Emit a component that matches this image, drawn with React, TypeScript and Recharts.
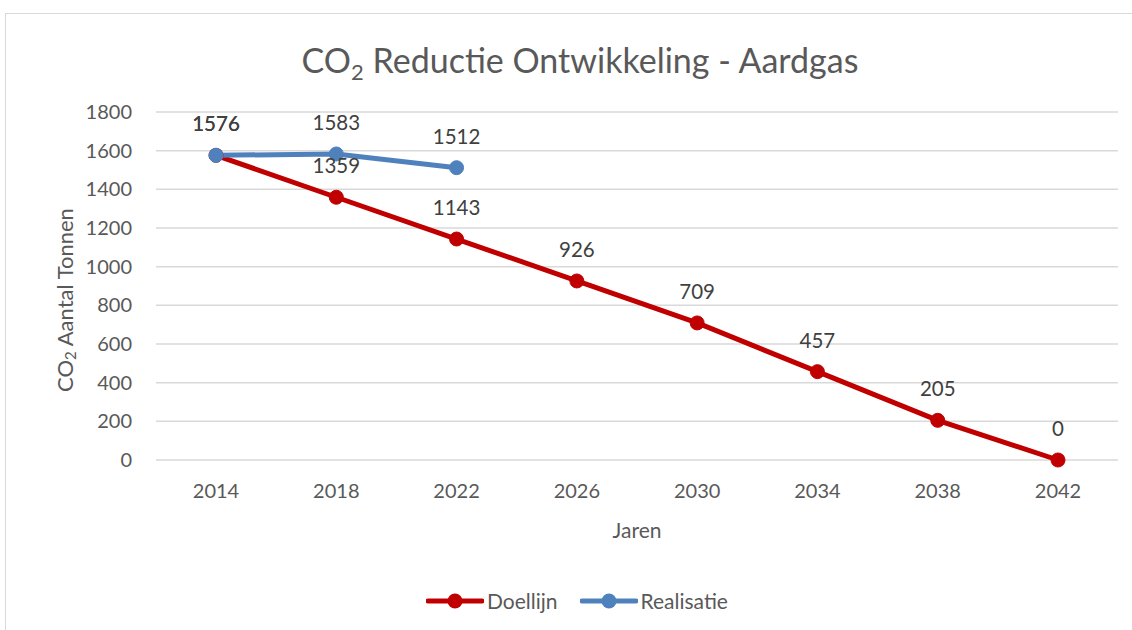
import React from 'react';
import { LineChart, Line, XAxis, YAxis, CartesianGrid, LabelList } from 'recharts';

const years = ['2014', '2018', '2022', '2026', '2030', '2034', '2038', '2042'];
const doellijn = [1576, 1359, 1143, 926, 709, 457, 205, 0];
const realisatie: (number | null)[] = [1576, 1583, 1512, null, null, null, null, null];
const yTicks = [0, 200, 400, 600, 800, 1000, 1200, 1400, 1600, 1800];

const data = years.map((y, i) => ({ year: y, Doellijn: doellijn[i], Realisatie: realisatie[i] }));

const FONT = 'Lato, "Open Sans", sans-serif';
const AXIS = '#595959';
const RED = '#C00000';
const BLUE = '#4F81BD';

const YLabel = () => {
  const cx = 64;
  const cy = 300;
  return (
    <text x={cx} y={cy} transform={`rotate(-90 ${cx} ${cy})`} textAnchor="middle" dominantBaseline="central" fill={AXIS} fontSize={22} fontFamily={FONT}>
      <tspan>CO</tspan>
      <tspan dy={6} fontSize={15}>2</tspan>
      <tspan dy={-6}> Aantal Tonnen</tspan>
    </text>
  );
};

const LegendItem = ({ color, label }: { color: string; label: string }) => (
  <div style={{ display: 'flex', alignItems: 'center', marginRight: 22 }}>
    <svg width={58} height={18} style={{ marginRight: 3 }}>
      <line x1={2} y1={9} x2={56} y2={9} stroke={color} strokeWidth={5} strokeLinecap="round" />
      <circle cx={29} cy={9} r={7.5} fill={color} />
    </svg>
    <span style={{ fontFamily: FONT, fontSize: 21, color: AXIS }}>{label}</span>
  </div>
);

export default function App() {
  return (
    <div style={{ position: 'absolute', left: 0, top: 0, width: 1132, height: 630, background: '#fff', overflow: 'hidden' }}>
      <div style={{ position: 'absolute', left: 5, top: 13, width: 1200, height: 700, borderLeft: '1.5px solid #d9d9d9', borderTop: '1.5px solid #d9d9d9' }} />
      <div style={{ position: 'absolute', left: 0, top: 38, width: 1160, textAlign: 'center', fontFamily: FONT, fontSize: 34, color: AXIS, lineHeight: '44px' }}>
        CO<sub style={{ fontSize: 22, verticalAlign: '-7px', lineHeight: 0 }}>2</sub> Reductie Ontwikkeling - Aardgas
      </div>
      <LineChart width={1132} height={630} data={data} margin={{ top: 112, right: 14, bottom: 90, left: 0 }} style={{ position: 'absolute', left: 0, top: 0 }}>
        <CartesianGrid vertical={false} stroke="#d9d9d9" strokeWidth={1.5} />
        <XAxis dataKey="year" axisLine={false} tickLine={false} tickSize={0} tickMargin={24} padding={{ left: 60, right: 60 }} height={80}
          tick={{ fill: AXIS, fontSize: 20, fontFamily: FONT }}
          label={{ value: 'Jaren', position: 'insideBottom', offset: 2, fill: AXIS, fontSize: 21, fontFamily: FONT }} />
        <YAxis domain={[0, 1800]} ticks={yTicks} axisLine={false} tickLine={false} tickSize={0} tickMargin={24} width={156}
          interval={0} tick={{ fill: AXIS, fontSize: 20, fontFamily: FONT }} label={<YLabel />} />
        <Line dataKey="Doellijn" stroke={RED} strokeWidth={5} dot={{ r: 7, fill: RED, stroke: RED, strokeWidth: 1 }} isAnimationActive={false}>
          <LabelList dataKey="Doellijn" position="top" offset={24} fill="#404040" fontSize={20.5} fontFamily={FONT} />
        </Line>
        <Line dataKey="Realisatie" stroke={BLUE} strokeWidth={5} dot={{ r: 7, fill: BLUE, stroke: BLUE, strokeWidth: 1 }} isAnimationActive={false} connectNulls={false}>
          <LabelList dataKey="Realisatie" position="top" offset={24} fill="#404040" fontSize={20.5} fontFamily={FONT} />
        </Line>
      </LineChart>
      <div style={{ position: 'absolute', left: 426, top: 588, display: 'flex' }}>
        <LegendItem color={RED} label="Doellijn" />
        <LegendItem color={BLUE} label="Realisatie" />
      </div>
    </div>
  );
}
